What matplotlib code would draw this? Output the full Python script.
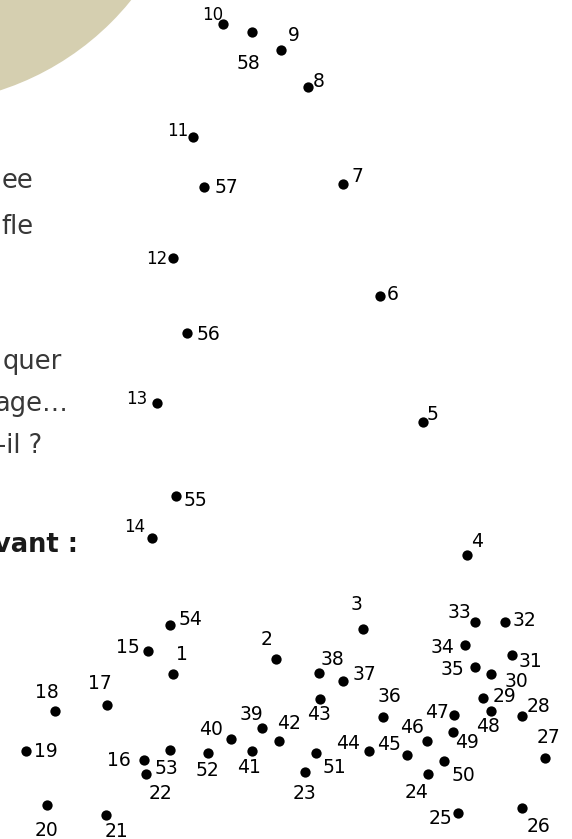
import matplotlib
matplotlib.use('Agg')
import matplotlib.pyplot as plt
from matplotlib.patches import Circle

# dots of the puzzle (pixel coords of the picture, y downwards)
dot_num = [1, 2, 3, 4, 5, 6, 7, 8, 9, 10,
           11, 12, 13, 14, 15, 16, 17, 18, 19, 20,
           21, 22, 23, 24, 25, 26, 27, 28, 29, 30,
           31, 32, 33, 34, 35, 36, 37, 38, 39, 40,
           41, 42, 43, 44, 45, 46, 47, 48, 49, 50,
           51, 52, 53, 54, 55, 56, 57, 58]
dot_x = [173, 276, 363, 467, 423, 380, 343, 308, 281, 223,
         193, 173, 157, 152, 148, 144, 107, 55, 26, 47,
         106, 146, 305, 428, 458, 522, 545, 522, 483, 491,
         512, 505, 475, 465, 475, 383, 343, 319, 262, 231,
         252, 279, 320, 369, 407, 427, 454, 491, 453, 444,
         316, 208, 170, 170, 176, 187, 204, 252]
dot_y = [674, 659, 629, 555, 422, 296, 184, 87, 50, 24,
         137, 258, 403, 538, 651, 760, 705, 711, 751, 805,
         815, 774, 772, 774, 813, 808, 758, 716, 698, 674,
         655, 622, 622, 645, 667, 717, 681, 673, 728, 739,
         751, 741, 699, 751, 755, 741, 715, 711, 732, 761,
         753, 753, 750, 625, 496, 333, 187, 32]

# fragments of the text column (cut by the left edge)
text_lines = ['ee', 'fle', 'quer', 'age\u2026', '-il ?', 'vant :']
text_right = [33, 33, 62, 68, 42, 78]
text_base = [188, 234, 369, 411, 453, 552]
text_bold = [False, False, False, False, False, True]

# where each number sits relative to its dot
label_off = {
    1: (9, -21), 2: (-9, -21), 3: (-6, -26), 4: (10, -15), 5: (9, -9),
    6: (13, -3), 7: (14, -9), 8: (11, -7), 9: (13, -16), 10: (-10, -10),
    11: (-15, -6), 12: (-16, 0), 13: (-20, -5), 14: (-17, -12), 15: (-20, -5),
    16: (-25, -1), 17: (-7, -23), 18: (-8, -20), 19: (20, -1), 20: (0, 24),
    21: (11, 15), 22: (15, 18), 23: (-1, 20), 24: (-11, 17), 25: (-18, 4),
    26: (16, 17), 27: (4, -22), 28: (17, -11), 29: (22, -3), 30: (25, 6),
    31: (18, 5), 32: (19, -3), 33: (-16, -11), 34: (-23, 1), 35: (-23, 1),
    36: (6, -22), 37: (21, -8), 38: (13, -15), 39: (-11, -15), 40: (-20, -11),
    41: (-3, 15), 42: (10, -19), 43: (-1, 14), 44: (-21, -9), 45: (-18, -12),
    46: (-15, -15), 47: (-17, -4), 48: (-3, 14), 49: (14, 9), 50: (19, 13),
    51: (18, 13), 52: (-1, 16), 53: (-4, 17), 54: (20, -7), 55: (19, 3),
    56: (21, 0), 57: (22, -1), 58: (-4, 30),
}
small_labels = [10, 11, 12, 13, 14]

W, H = 572, 839
fig = plt.figure(figsize=(W / 100, H / 100), dpi=100)
ax = fig.add_axes([0, 0, 1, 1])
ax.set_xlim(0, W)
ax.set_ylim(H, 0)
ax.axis('off')

# beige disc in the top-left corner
ax.add_patch(Circle((-86, -175), 279, color='#d5cfb0', lw=0, zorder=0))

for s, xr, yb, b in zip(text_lines, text_right, text_base, text_bold):
    ax.text(xr, yb, s, ha='right', va='baseline', fontsize=18.5,
            color='#1a1a1a' if b else '#383838',
            fontweight='bold' if b else 'normal', family='DejaVu Sans')

ax.scatter(dot_x, dot_y, s=55, color='black', lw=0, zorder=3)

for n, x, y in zip(dot_num, dot_x, dot_y):
    dx, dy = label_off[n]
    fs = 12 if n in small_labels else 13.5
    ax.text(x + dx, y + dy + (5.5 if n in small_labels else 7), str(n),
            ha='center', va='baseline', fontsize=fs, color='black',
            family='DejaVu Sans')

fig.savefig('out.png', dpi=100)
